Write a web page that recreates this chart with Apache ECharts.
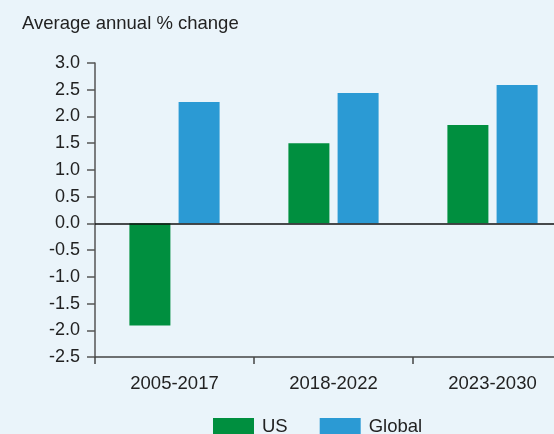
<!DOCTYPE html>
<html>
<head>
<meta charset="utf-8">
<script src="https://cdn.jsdelivr.net/npm/echarts@6/dist/echarts.min.js"></script>
<style>
  html, body { margin: 0; padding: 0; background: #eaf4fa; overflow: hidden; }
  /* wider than the window: the plot runs past the right edge in the original */
  #chart { width: 572px; height: 434px; }
</style>
</head>
<body>
<div id="chart"></div>
<script>
const categories = ['2005-2017', '2018-2022', '2023-2030']
const usValues = [-1.91, 1.50, 1.84]
const globalValues = [2.27, 2.44, 2.59]

const chart = echarts.init(document.getElementById('chart'))
const font = 'Liberation Sans, Arial, sans-serif'

const option = {
  backgroundColor: '#eaf4fa',
  animation: false,
  title: {
    text: 'Average annual % change',
    left: 17,
    top: 9,
    textStyle: { fontFamily: font, fontSize: 18.5, fontWeight: 'normal', color: '#222' }
  },
  legend: {
    left: 208,
    top: 412,
    icon: 'rect',
    itemWidth: 41,
    itemHeight: 17,
    itemGap: 32,
    textStyle: { fontFamily: font, fontSize: 18.5, color: '#222', padding: [0, 0, 0, 3] },
    data: ['US', 'Global']
  },
  grid: { left: 95, right: 0, top: 63, bottom: 77 },
  xAxis: {
    type: 'category',
    data: categories,
    axisLine: { onZero: false, lineStyle: { color: '#444', width: 1.5 } },
    axisTick: { show: true, length: 7, lineStyle: { color: '#444', width: 1.5 } },
    axisLabel: { fontFamily: font, fontSize: 18.5, color: '#222', margin: 17 }
  },
  yAxis: {
    type: 'value',
    min: -2.5,
    max: 3,
    interval: 0.5,
    axisLine: { show: true, lineStyle: { color: '#555', width: 1.5 } },
    axisTick: { show: true, length: 8, lineStyle: { color: '#555', width: 1.5 } },
    splitLine: { show: false },
    axisLabel: {
      fontFamily: font, fontSize: 18, color: '#222', margin: 15,
      formatter: v => v.toFixed(1)
    }
  },
  series: [
    {
      name: 'US',
      type: 'bar',
      data: usValues,
      barWidth: 41,
      barGap: '20%',
      itemStyle: { color: '#008f3f' },
      markLine: {
        silent: true,
        symbol: 'none',
        label: { show: false },
        lineStyle: { color: '#111', width: 1.5, type: 'solid' },
        data: [{ yAxis: 0 }]
      }
    },
    {
      name: 'Global',
      type: 'bar',
      data: globalValues,
      barWidth: 41,
      itemStyle: { color: '#2b9ad4' }
    }
  ]
}

chart.setOption(option)
</script>
</body>
</html>
